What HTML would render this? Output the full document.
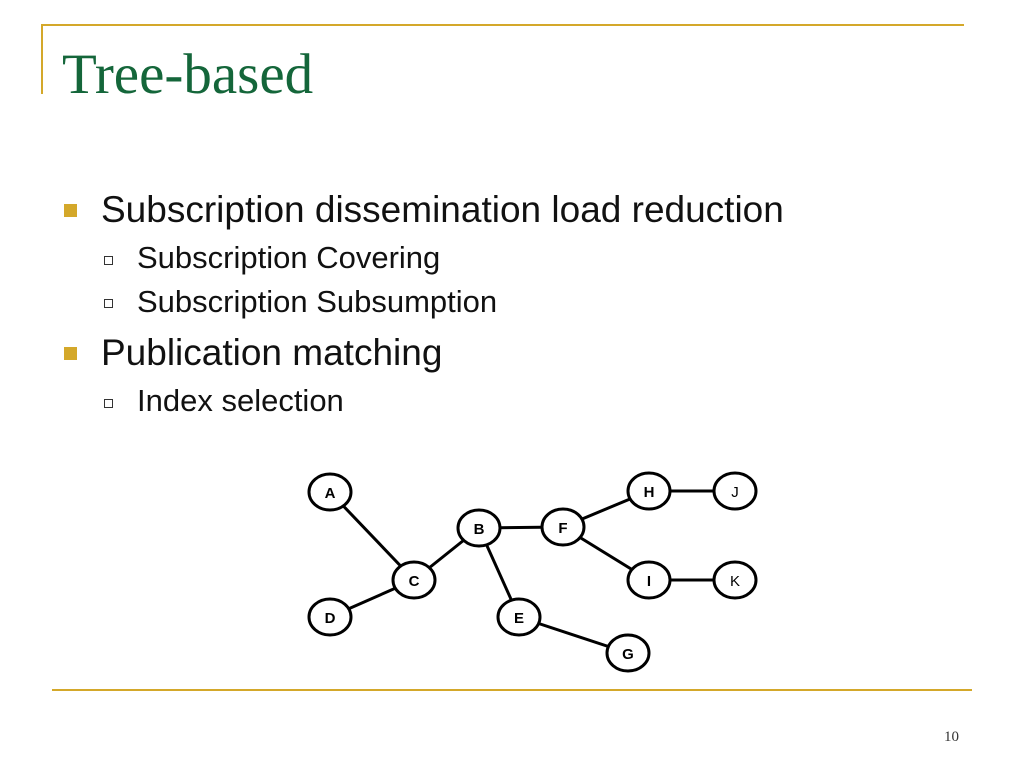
<!DOCTYPE html>
<html><head><style>
body{margin:0;width:1024px;height:768px;background:#fff;position:relative;overflow:hidden;font-family:"Liberation Sans",sans-serif}
.a{position:absolute;white-space:nowrap;line-height:1}
</style></head><body>
<div class="a" style="left:42px;top:24px;width:922px;height:2px;background:#d4a82a"></div>
<div class="a" style="left:41px;top:24px;width:2px;height:70px;background:#d4a82a"></div>
<div class="a" style="left:52px;top:689px;width:920px;height:2px;background:#d4a82a"></div>
<div class="a" style="left:62px;top:46px;font-family:'Liberation Serif',serif;font-size:57px;color:#14663a">Tree-based</div>
<div class="a" style="left:64px;top:204px;width:13px;height:13px;background:#d4a82a"></div>
<div class="a" style="left:101px;top:191px;font-size:37px;color:#111">Subscription dissemination load reduction</div>
<div class="a" style="left:104px;top:256px;width:7px;height:7px;border:1px solid #333"></div>
<div class="a" style="left:137px;top:242px;font-size:31px;color:#111">Subscription Covering</div>
<div class="a" style="left:104px;top:299px;width:7px;height:7px;border:1px solid #333"></div>
<div class="a" style="left:137px;top:286px;font-size:31px;color:#111">Subscription Subsumption</div>
<div class="a" style="left:64px;top:347px;width:13px;height:13px;background:#d4a82a"></div>
<div class="a" style="left:101px;top:334px;font-size:37px;color:#111">Publication matching</div>
<div class="a" style="left:104px;top:399px;width:7px;height:7px;border:1px solid #333"></div>
<div class="a" style="left:137px;top:385px;font-size:31px;color:#111">Index selection</div>
<div class="a" style="left:944px;top:730px;font-family:'Liberation Serif',serif;font-size:15px;color:#333">10</div>
<svg class="a" style="left:0;top:0" width="1024" height="768">
<g stroke="#000" stroke-width="3">
<line x1="330" y1="492" x2="414" y2="580"/><line x1="330" y1="617" x2="414" y2="580"/>
<line x1="414" y1="580" x2="479" y2="528"/><line x1="479" y1="528" x2="563" y2="527"/>
<line x1="479" y1="528" x2="519" y2="617"/><line x1="519" y1="617" x2="628" y2="653"/>
<line x1="563" y1="527" x2="649" y2="491"/><line x1="563" y1="527" x2="649" y2="580"/>
<line x1="649" y1="491" x2="735" y2="491"/><line x1="649" y1="580" x2="735" y2="580"/>
</g>
<g fill="#fff" stroke="#000" stroke-width="3">
<ellipse cx="330" cy="492" rx="21" ry="18"/><ellipse cx="479" cy="528" rx="21" ry="18"/>
<ellipse cx="414" cy="580" rx="21" ry="18"/><ellipse cx="330" cy="617" rx="21" ry="18"/>
<ellipse cx="519" cy="617" rx="21" ry="18"/><ellipse cx="563" cy="527" rx="21" ry="18"/>
<ellipse cx="628" cy="653" rx="21" ry="18"/><ellipse cx="649" cy="491" rx="21" ry="18"/>
<ellipse cx="649" cy="580" rx="21" ry="18"/><ellipse cx="735" cy="491" rx="21" ry="18"/>
<ellipse cx="735" cy="580" rx="21" ry="18"/>
</g>
<g font-family="Liberation Sans" font-size="15" text-anchor="middle" font-weight="bold">
<text x="330" y="498">A</text><text x="479" y="534">B</text><text x="414" y="586">C</text>
<text x="330" y="623">D</text><text x="519" y="623">E</text><text x="563" y="533">F</text>
<text x="628" y="659">G</text><text x="649" y="497">H</text><text x="649" y="586">I</text>
<text x="735" y="497" font-weight="normal">J</text><text x="735" y="586" font-weight="normal">K</text>
</g>
</svg>
</body></html>
